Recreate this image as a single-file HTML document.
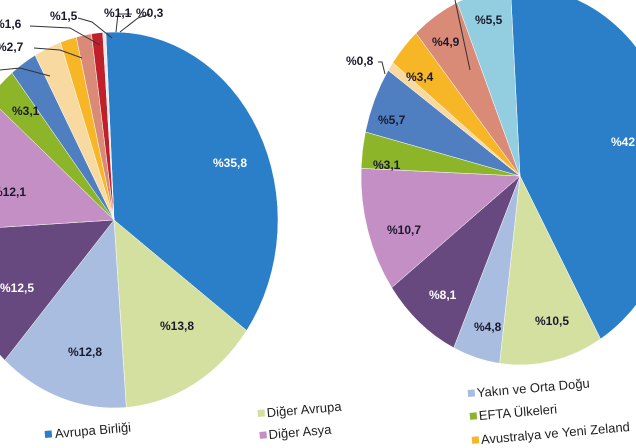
<!DOCTYPE html>
<html><head><meta charset="utf-8"><style>
html,body{margin:0;padding:0;background:#fff;width:636px;height:448px;overflow:hidden}
svg{display:block}
text{font-family:"Liberation Sans",sans-serif;font-size:12px;font-weight:bold;fill:#1a1a2e}
.lg{font-weight:normal;font-size:13px;fill:#222}
</style></head><body>
<svg id="s" width="636" height="448" xmlns="http://www.w3.org/2000/svg">
<g id="p"></g>
<g stroke="#333" stroke-width="1" fill="none">
<polyline points="30,26 70,28 100,45"/>
<polyline points="78,18 92,22 112,38"/>
<polyline points="132,14 118,14 116,32"/>
<polyline points="150,14 138,18 120,32"/>
<polyline points="34,48 60,50 82,58"/>
<polyline points="0,70 20,68 50,76"/>
<polyline points="378,62 382,62 385,74"/>
<polyline points="455,0 470,70"/>
</g>
<text x="213" y="167" style="fill:#fff">%35,8</text>
<text x="160" y="330">%13,8</text>
<text x="68" y="356">%12,8</text>
<text x="0" y="292" style="fill:#fff">%12,5</text>
<text x="-8" y="196">%12,1</text>
<text x="12" y="115">%3,1</text>
<text x="-6" y="28">%1,6</text>
<text x="50" y="20">%1,5</text>
<text x="104" y="17">%1,1</text>
<text x="136" y="17">%0,3</text>
<text x="-4" y="51">%2,7</text>
<text x="611" y="146" style="fill:#fff">%42</text>
<text x="535" y="325">%10,5</text>
<text x="474" y="331">%4,8</text>
<text x="429" y="299" style="fill:#fff">%8,1</text>
<text x="387" y="234">%10,7</text>
<text x="373" y="169">%3,1</text>
<text x="378" y="124">%5,7</text>
<text x="346" y="65">%0,8</text>
<text x="406" y="81">%3,4</text>
<text x="432" y="46">%4,9</text>
<text x="475" y="24">%5,5</text>
<g transform="rotate(-5 45 436)">
<rect x="45" y="431" width="7" height="7" fill="#2a7fc8"/><text class="lg" x="55" y="439">Avrupa Birliği</text></g>
<g transform="rotate(-5 258 416)">
<rect x="258" y="410" width="7" height="7" fill="#d3e0a0"/><text class="lg" x="267" y="418">Diğer Avrupa</text>
<rect x="258" y="432" width="7" height="7" fill="#c38fc4"/><text class="lg" x="267" y="440">Diğer Asya</text></g>
<g transform="rotate(-5 468 395)">
<rect x="468" y="390" width="7" height="7" fill="#a9bde0"/><text class="lg" x="477" y="398">Yakın ve Orta Doğu</text>
<rect x="468" y="413" width="7" height="7" fill="#8db52a"/><text class="lg" x="477" y="421">EFTA Ülkeleri</text>
<rect x="468" y="437" width="7" height="7" fill="#f6b626"/><text class="lg" x="477" y="445">Avustralya ve Yeni Zeland</text></g>
</svg>
<script>
function pie(cx,cy,rx,ry,start,data){
 var g=document.getElementById('p'),a=start,tot=0;data.forEach(function(d){tot+=d[0]});
 data.forEach(function(d){
  var a2=a+d[0]/tot*2*Math.PI;
  var x1=cx+rx*Math.sin(a),y1=cy-ry*Math.cos(a),x2=cx+rx*Math.sin(a2),y2=cy-ry*Math.cos(a2);
  var p=document.createElementNS('http://www.w3.org/2000/svg','path');
  p.setAttribute('d','M'+cx+','+cy+'L'+x1+','+y1+'A'+rx+','+ry+' 0 '+((a2-a)>Math.PI?1:0)+' 1 '+x2+','+y2+'Z');
  p.setAttribute('fill',d[1]);p.setAttribute('stroke','#fff');p.setAttribute('stroke-width','0.5');
  g.appendChild(p);a=a2;});
}
pie(114,220,164,188,-0.05,[[35.8,'#2a7fc8'],[13.8,'#d3e0a0'],[12.8,'#a9bde0'],[12.5,'#67497f'],[12.1,'#c38fc4'],[3.1,'#8db52a'],[2.7,'#4f7fc0'],[2.7,'#f8d9a0'],[1.6,'#f6b626'],[1.5,'#d98b78'],[1.1,'#c0202a'],[0.3,'#e8e8e8']]);
pie(520,176,159,189,-0.06,[[42.5,'#2a7fc8'],[10.5,'#d3e0a0'],[4.8,'#a9bde0'],[8.1,'#67497f'],[10.7,'#c38fc4'],[3.1,'#8db52a'],[5.7,'#4f7fc0'],[0.8,'#f8d9a0'],[3.4,'#f6b626'],[4.9,'#d98b78'],[5.5,'#93cde0']]);
</script>
</body></html>
